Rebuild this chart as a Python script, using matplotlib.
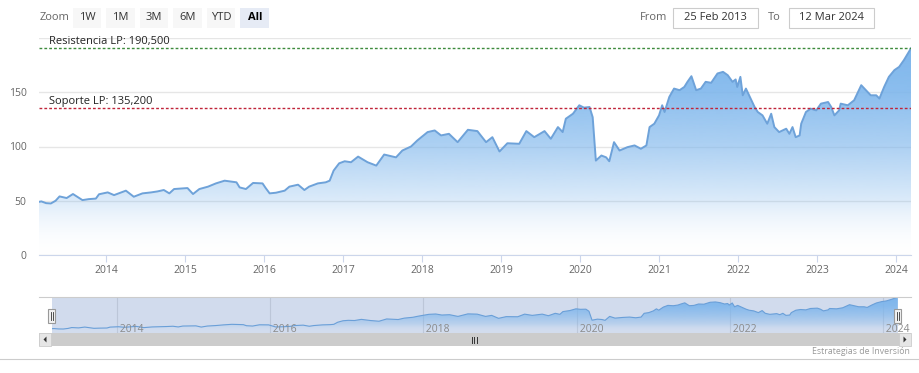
import numpy as np
import matplotlib
matplotlib.use("Agg")
import matplotlib.pyplot as plt
from matplotlib.colors import LinearSegmentedColormap
from matplotlib.patches import Polygon, Rectangle

plt.rcParams["font.family"] = ["Open Sans", "DejaVu Sans"]

# price series (decimal year, value)
years = [2013.15, 2013.18, 2013.24, 2013.30, 2013.36, 2013.41, 2013.50, 2013.58, 2013.70, 2013.78,
         2013.87, 2013.91, 2014.02, 2014.10, 2014.25, 2014.35, 2014.46, 2014.57, 2014.65, 2014.73,
         2014.80, 2014.86, 2014.97, 2015.03, 2015.10, 2015.18, 2015.29, 2015.39, 2015.50, 2015.56,
         2015.65, 2015.69, 2015.77, 2015.86, 2015.98, 2016.02, 2016.07, 2016.15, 2016.26, 2016.32,
         2016.43, 2016.51, 2016.57, 2016.68, 2016.78, 2016.83, 2016.88, 2016.95, 2017.02, 2017.10,
         2017.19, 2017.31, 2017.42, 2017.52, 2017.67, 2017.75, 2017.86, 2017.94, 2018.07, 2018.16,
         2018.24, 2018.34, 2018.45, 2018.58, 2018.70, 2018.81, 2018.89, 2018.98, 2019.08, 2019.23,
         2019.32, 2019.42, 2019.55, 2019.63, 2019.72, 2019.78, 2019.82, 2019.91, 2019.99, 2020.05,
         2020.12, 2020.16, 2020.20, 2020.27, 2020.33, 2020.37, 2020.43, 2020.50, 2020.60, 2020.69,
         2020.77, 2020.84, 2020.88, 2020.94, 2021.00, 2021.04, 2021.07, 2021.13, 2021.19, 2021.26,
         2021.32, 2021.36, 2021.41, 2021.47, 2021.53, 2021.59, 2021.66, 2021.74, 2021.81, 2021.87,
         2021.93, 2021.97, 2021.99, 2022.03, 2022.06, 2022.10, 2022.16, 2022.21, 2022.25, 2022.31,
         2022.37, 2022.42, 2022.46, 2022.52, 2022.61, 2022.65, 2022.69, 2022.73, 2022.78, 2022.80,
         2022.86, 2022.92, 2022.99, 2023.05, 2023.14, 2023.18, 2023.22, 2023.28, 2023.30, 2023.39,
         2023.47, 2023.56, 2023.62, 2023.68, 2023.75, 2023.79, 2023.85, 2023.91, 2023.98, 2024.04,
         2024.10, 2024.19]
prices = [49, 49.4, 47.8, 47.5, 50, 54, 52.5, 56.2, 50.6, 51.5,
          52, 56, 57.7, 55.2, 59.3, 53.7, 56.8, 57.7, 58.6, 59.9,
          56.8, 60.8, 61.4, 61.7, 56.2, 60.8, 63, 66, 68.5, 67.9,
          67, 62.3, 60.8, 66.4, 66, 61.7, 56.8, 57.4, 59.3, 63,
          64.8, 59.9, 63, 66, 67, 68.5, 77.8, 84.5, 86.4, 85.5,
          90.7, 85.5, 82.4, 92.6, 90, 96.3, 100, 105.6, 113.3, 114.8,
          110.2, 111.7, 104, 115.4, 114.2, 104, 108.6, 95.4, 103, 102.5,
          114.2, 108.6, 114.2, 107.1, 117.9, 113.3, 125.6, 130.2, 138, 135.8,
          136.4, 127, 87, 91.7, 90, 86.4, 104, 96.3, 99.4, 101,
          97.9, 101, 117.9, 121, 128.7, 138, 131.8, 145.7, 153.4, 151.9,
          154.9, 159.6, 164.8, 151.9, 153.4, 159.6, 158.7, 167.3, 168.8, 165.7,
          159.6, 161.8, 154.9, 164.2, 147.2, 153.4, 144.2, 136.4, 131.8, 128.7,
          121, 130.2, 117.9, 113.3, 116.4, 111.7, 117.9, 108.6, 110.2, 121,
          131.8, 134.9, 133.3, 139.5, 141, 136.4, 128.7, 133.3, 139.5, 138,
          142.6, 156.5, 151.9, 147.2, 147.2, 144.2, 154.9, 164.2, 170.4, 173.4,
          179.6, 190.5]

resistencia = 190.5
soporte = 135.2
year_ticks = [2014, 2015, 2016, 2017, 2018, 2019, 2020, 2021, 2022, 2023, 2024]
nav_ticks = [2014, 2016, 2018, 2020, 2022, 2024]
zoom_buttons = ["1W", "1M", "3M", "6M", "YTD", "All"]
date_from = "25 Feb 2013"
date_to = "12 Mar 2024"

W, H = 920, 373
BLUE = (124 / 255, 181 / 255, 236 / 255)
LINE = "#6ea2d9"


def px(x0, y0, x1, y1):
    # pixel box (top-left origin) -> figure fraction rect
    return [x0 / W, 1 - y1 / H, (x1 - x0) / W, (y1 - y0) / H]


def gradient_area(ax, xs, ys, ybot, ytop, top_alpha):
    stops = [(0.0, (1, 1, 1, 0.02)), (0.25, BLUE + (0.27 * top_alpha,)),
             (0.5, BLUE + (0.62 * top_alpha,)), (0.75, BLUE + (0.88 * top_alpha,)),
             (1.0, BLUE + (top_alpha,))]
    cmap = LinearSegmentedColormap.from_list("g", stops)
    grad = np.linspace(0, 1, 256).reshape(-1, 1)
    im = ax.imshow(grad, aspect="auto", cmap=cmap, origin="lower",
                   extent=[xs[0], xs[-1], ybot, ytop], zorder=1, interpolation="bilinear")
    verts = np.column_stack([np.r_[xs[0], xs, xs[-1]], np.r_[ybot, ys, ybot]])
    patch = Polygon(verts, closed=True, facecolor="none", edgecolor="none")
    ax.add_patch(patch)
    im.set_clip_path(patch)


fig = plt.figure(figsize=(W / 100, H / 100), dpi=100)

# main chart
ax = fig.add_axes(px(39, 38, 911, 255))
gradient_area(ax, years, prices, 0, 200, 1.0)
ax.plot(years, prices, color=LINE, lw=1.4, zorder=3)
ax.set_xlim(years[0], years[-1])
ax.set_ylim(0, 200)
ax.set_yticks([0, 50, 100, 150, 200])
ax.set_yticklabels(["0", "50", "100", "150", ""])
ax.set_xticks(year_ticks)
ax.set_xticklabels([str(y) for y in year_ticks])
ax.grid(axis="y", color="#e6e6e6", lw=1)
ax.set_axisbelow(True)
for s in ["top", "left", "right"]:
    ax.spines[s].set_visible(False)
ax.spines["bottom"].set_color("#ccd6eb")
ax.tick_params(axis="y", length=0, pad=9, labelsize=7.5, labelcolor="#666666")
ax.tick_params(axis="x", length=5, color="#ccd6eb", labelsize=7.5, labelcolor="#666666", pad=2)

ax.axhline(resistencia, color="#3d8b3d", lw=1, ls=(0, (2, 1.5)), zorder=4)
ax.axhline(soporte, color="#c0243a", lw=1, ls=(0, (2, 1.5)), zorder=4)
ax.annotate("Resistencia LP: 190,500", xy=(0, resistencia), xycoords=("axes fraction", "data"),
            xytext=(7, 1), textcoords="offset points", fontsize=8, va="bottom", color="#222222")
ax.annotate("Soporte LP: 135,200", xy=(0, soporte), xycoords=("axes fraction", "data"),
            xytext=(7, 1), textcoords="offset points", fontsize=8, va="bottom", color="#222222")

# navigator
nav = fig.add_axes(px(51.8, 297, 897.8, 333))
nav.set_facecolor("#d1dbed")
gradient_area(nav, years, prices, 29.6, 191, 1.0)
nav.plot(years, prices, color="#6a9fd8", lw=0.8, zorder=3)
nav.set_xlim(years[0], years[-1])
nav.set_ylim(29.6, 191)
for yr in nav_ticks:
    nav.axvline(yr, color="#bcc6d8", lw=0.8, zorder=0.5)
    nav.text(yr, 47, " " + str(yr), fontsize=7.5, color="#8a8a8a", va="center", ha="left", zorder=4)
nav.set_xticks([])
nav.set_yticks([])
for s in nav.spines.values():
    s.set_visible(False)

# overlay for the ui bits
ov = fig.add_axes([0, 0, 1, 1], zorder=5)
ov.set_xlim(0, W)
ov.set_ylim(H, 0)
ov.axis("off")
ov.patch.set_alpha(0)

ov.text(40, 18, "Zoom", fontsize=8, color="#666666", va="center")
bx = 73
for b in zoom_buttons:
    sel = b == "All"
    ov.add_patch(Rectangle((bx, 8), 28.5, 20, facecolor="#e6ebf5" if sel else "#f7f7f7", edgecolor="none"))
    ov.text(bx + 14.25, 18, b, fontsize=8, ha="center", va="center",
            color="#000000" if sel else "#333333", fontweight="bold" if sel else "normal")
    bx += 33.5

ov.text(640, 18, "From", fontsize=8, color="#666666", va="center")
ov.add_patch(Rectangle((673, 8), 85, 20, facecolor="white", edgecolor="#cccccc", lw=0.8))
ov.text(715.5, 18, date_from, fontsize=8, color="#333333", ha="center", va="center")
ov.text(768, 18, "To", fontsize=8, color="#666666", va="center")
ov.add_patch(Rectangle((789, 8), 85, 20, facecolor="white", edgecolor="#cccccc", lw=0.8))
ov.text(831.5, 18, date_to, fontsize=8, color="#333333", ha="center", va="center")

# navigator outline, handles, scrollbar
ov.plot([39, 911], [297, 297], color="#cccccc", lw=0.8)
for hx in [51.8, 897.8]:
    ov.add_patch(Rectangle((hx - 3.5, 309), 7, 14, facecolor="#f2f2f2", edgecolor="#999999", lw=0.8))
    ov.plot([hx - 1, hx - 1], [312, 320], color="#333333", lw=0.6)
    ov.plot([hx + 1, hx + 1], [312, 320], color="#333333", lw=0.6)
ov.add_patch(Rectangle((39, 333), 872, 13, facecolor="#cccccc", edgecolor="none"))
ov.add_patch(Rectangle((39, 333), 12, 13, facecolor="#e6e6e6", edgecolor="#cccccc", lw=0.6))
ov.add_patch(Rectangle((899, 333), 12, 13, facecolor="#e6e6e6", edgecolor="#cccccc", lw=0.6))
ov.add_patch(Polygon([[46.5, 336.5], [46.5, 342.5], [43.5, 339.5]], closed=True, facecolor="#333333"))
ov.add_patch(Polygon([[903.5, 336.5], [903.5, 342.5], [906.5, 339.5]], closed=True, facecolor="#333333"))
for gx in [472, 474.5, 477]:
    ov.plot([gx, gx], [336.5, 342.5], color="#333333", lw=0.7)

ov.text(910, 352, "Estrategias de Inversión", fontsize=6.3, color="#999999", ha="right", va="center")
ov.plot([0, 918], [359, 359], color="#cccccc", lw=0.8)

fig.savefig("out.png", dpi=100)
